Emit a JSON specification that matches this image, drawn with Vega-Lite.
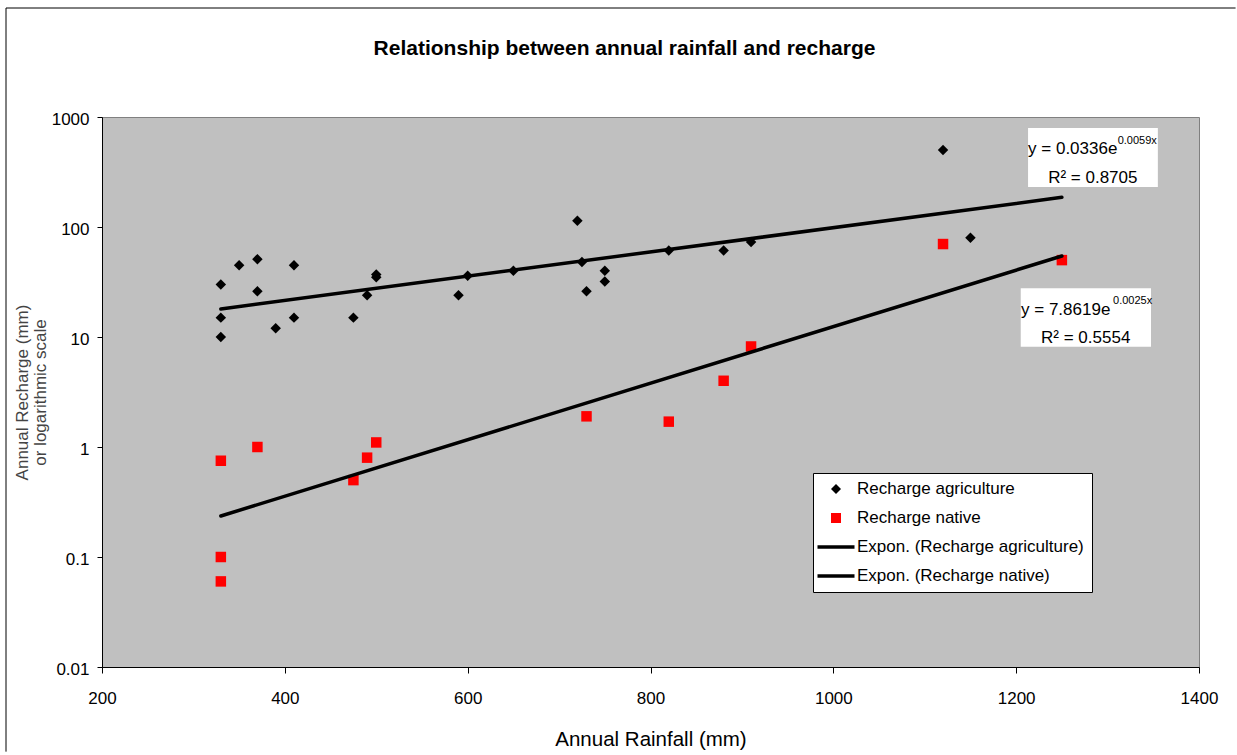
{
  "$schema": "https://vega.github.io/schema/vega-lite/v6.json",
  "width": 1097,
  "height": 550,
  "autosize": {"type": "none"},
  "padding": {"left": 102, "top": 117, "right": 38, "bottom": 88},
  "background": "white",
  "title": {
    "text": "Relationship between annual rainfall and recharge",
    "fontSize": 21,
    "fontWeight": "bold",
    "color": "black",
    "anchor": "middle",
    "frame": "group",
    "baseline": "alphabetic",
    "offset": 0,
    "dy": 68,
    "dx": -26
  },
  "config": {
    "font": "Liberation Sans",
    "view": {"fill": "#C0C0C0", "stroke": "#808080", "strokeWidth": 1},
    "axis": {"grid": false, "domainColor": "black", "tickColor": "black", "labelColor": "black", "titleColor": "black", "titleFontWeight": "normal"},
    "legend": {"labelLimit": 400}
  },
  "data": {"values": [{"note": "annotation"}]},
  "datasets": {
    "points": [
      {"series": "Recharge agriculture", "rainfall": 330, "recharge": 30},
      {"series": "Recharge agriculture", "rainfall": 330, "recharge": 15},
      {"series": "Recharge agriculture", "rainfall": 330, "recharge": 10},
      {"series": "Recharge agriculture", "rainfall": 350, "recharge": 45},
      {"series": "Recharge agriculture", "rainfall": 370, "recharge": 51},
      {"series": "Recharge agriculture", "rainfall": 370, "recharge": 26},
      {"series": "Recharge agriculture", "rainfall": 390, "recharge": 12},
      {"series": "Recharge agriculture", "rainfall": 410, "recharge": 45},
      {"series": "Recharge agriculture", "rainfall": 410, "recharge": 15},
      {"series": "Recharge agriculture", "rainfall": 475, "recharge": 15},
      {"series": "Recharge agriculture", "rainfall": 490, "recharge": 24},
      {"series": "Recharge agriculture", "rainfall": 500, "recharge": 37},
      {"series": "Recharge agriculture", "rainfall": 500, "recharge": 35},
      {"series": "Recharge agriculture", "rainfall": 590, "recharge": 24},
      {"series": "Recharge agriculture", "rainfall": 600, "recharge": 36},
      {"series": "Recharge agriculture", "rainfall": 650, "recharge": 40},
      {"series": "Recharge agriculture", "rainfall": 720, "recharge": 114},
      {"series": "Recharge agriculture", "rainfall": 725, "recharge": 48},
      {"series": "Recharge agriculture", "rainfall": 730, "recharge": 26},
      {"series": "Recharge agriculture", "rainfall": 750, "recharge": 40},
      {"series": "Recharge agriculture", "rainfall": 750, "recharge": 32},
      {"series": "Recharge agriculture", "rainfall": 820, "recharge": 61},
      {"series": "Recharge agriculture", "rainfall": 880, "recharge": 61},
      {"series": "Recharge agriculture", "rainfall": 910, "recharge": 73},
      {"series": "Recharge agriculture", "rainfall": 1120, "recharge": 500},
      {"series": "Recharge agriculture", "rainfall": 1150, "recharge": 80},
      {"series": "Recharge native", "rainfall": 330, "recharge": 0.75},
      {"series": "Recharge native", "rainfall": 330, "recharge": 0.1},
      {"series": "Recharge native", "rainfall": 330, "recharge": 0.06},
      {"series": "Recharge native", "rainfall": 370, "recharge": 1.0},
      {"series": "Recharge native", "rainfall": 475, "recharge": 0.5},
      {"series": "Recharge native", "rainfall": 490, "recharge": 0.8},
      {"series": "Recharge native", "rainfall": 500, "recharge": 1.1},
      {"series": "Recharge native", "rainfall": 730, "recharge": 1.9},
      {"series": "Recharge native", "rainfall": 820, "recharge": 1.7},
      {"series": "Recharge native", "rainfall": 880, "recharge": 4.0},
      {"series": "Recharge native", "rainfall": 910, "recharge": 8.2},
      {"series": "Recharge native", "rainfall": 1120, "recharge": 70},
      {"series": "Recharge native", "rainfall": 1250, "recharge": 50}
    ],
    "trends": [
      {"series": "Expon. (Recharge agriculture)", "rainfall": 330, "recharge": 18},
      {"series": "Expon. (Recharge agriculture)", "rainfall": 1250, "recharge": 186},
      {"series": "Expon. (Recharge native)", "rainfall": 330, "recharge": 0.236},
      {"series": "Expon. (Recharge native)", "rainfall": 1250, "recharge": 54.5}
    ]
  },
  "layer": [
    {
      "data": {"name": "points"},
      "mark": {"type": "point", "filled": true, "opacity": 1, "size": 110},
      "encoding": {
        "x": {
          "field": "rainfall", "type": "quantitative",
          "scale": {"domain": [200, 1400], "nice": false, "zero": false},
          "axis": {
            "values": [200, 400, 600, 800, 1000, 1200, 1400],
            "format": "d",
            "tickSize": 6,
            "labelPadding": 17,
            "labelFontSize": 17,
            "labelFlush": false,
            "labelOverlap": false,
            "title": "Annual Rainfall (mm)",
            "titleFontSize": 20.5,
            "titlePadding": 23
          }
        },
        "y": {
          "field": "recharge", "type": "quantitative",
          "scale": {"type": "log", "domain": [0.01, 1000], "nice": false},
          "axis": {
            "values": [0.01, 0.1, 1, 10, 100, 1000],
            "format": "~g",
            "tickSize": 5,
            "labelPadding": 8,
            "labelFontSize": 17,
            "labelOffset": 2,
            "labelOverlap": false,
            "title": ["Annual Recharge (mm)", "or logarithmic scale"],
            "titleFontSize": 17,
            "titleLineHeight": 18,
            "titleColor": "#444444",
            "titlePadding": 2
          }
        },
        "fill": {
          "field": "series", "type": "nominal",
          "scale": {
            "domain": ["Recharge agriculture", "Recharge native", "Expon. (Recharge agriculture)", "Expon. (Recharge native)"],
            "range": ["black", "#FF0000", "black", "black"]
          },
          "legend": {
            "title": null,
            "orient": "none",
            "legendX": 711,
            "legendY": 356,
            "fillColor": "white",
            "strokeColor": "black",
            "padding": 7.5,
            "labelFontSize": 17,
            "labelColor": "black",
            "labelOffset": 12.5,
            "symbolOffset": 7,
            "rowPadding": 11,
            "labelLimit": 400
          }
        },
        "shape": {
          "field": "series", "type": "nominal",
          "scale": {
            "domain": ["Recharge agriculture", "Recharge native", "Expon. (Recharge agriculture)", "Expon. (Recharge native)"],
            "range": ["diamond", "square", "M-3.7,-0.36H3.7V0.36H-3.7Z", "M-3.7,-0.36H3.7V0.36H-3.7Z"]
          }
        }
      }
    },
    {
      "data": {"name": "trends"},
      "mark": {"type": "line", "color": "black", "strokeWidth": 3.5, "strokeCap": "round"},
      "encoding": {
        "x": {"field": "rainfall", "type": "quantitative"},
        "y": {"field": "recharge", "type": "quantitative"},
        "detail": {"field": "series"}
      }
    },
    {
      "mark": {"type": "rule", "color": "black", "strokeWidth": 1},
      "encoding": {
        "x": {"datum": 95, "type": "quantitative"},
        "x2": {"datum": 1440},
        "y": {"datum": 9790, "type": "quantitative"}
      }
    },
    {
      "mark": {"type": "rule", "color": "black", "strokeWidth": 1},
      "encoding": {
        "x": {"datum": 95, "type": "quantitative"},
        "y": {"datum": 9790, "type": "quantitative"},
        "y2": {"datum": 0.0017}
      }
    },
    {
      "mark": {"type": "rect", "fill": "white"},
      "encoding": {
        "x": {"datum": 1213, "type": "quantitative"},
        "x2": {"datum": 1355},
        "y": {"datum": 794, "type": "quantitative"},
        "y2": {"datum": 231}
      }
    },
    {
      "mark": {"type": "rect", "fill": "white"},
      "encoding": {
        "x": {"datum": 1205, "type": "quantitative"},
        "x2": {"datum": 1347.5},
        "y": {"datum": 27.7, "type": "quantitative"},
        "y2": {"datum": 8.17}
      }
    },
    {
      "mark": {"type": "text", "align": "left", "baseline": "alphabetic", "fontSize": 17, "color": "black"},
      "encoding": {
        "x": {"datum": 1213, "type": "quantitative"},
        "y": {"datum": 458, "type": "quantitative"},
        "text": {"value": "y = 0.0336e"}
      }
    },
    {
      "mark": {"type": "text", "align": "left", "baseline": "alphabetic", "fontSize": 11, "color": "black"},
      "encoding": {
        "x": {"datum": 1311, "type": "quantitative"},
        "y": {"datum": 574, "type": "quantitative"},
        "text": {"value": "0.0059x"}
      }
    },
    {
      "mark": {"type": "text", "align": "left", "baseline": "alphabetic", "fontSize": 17, "color": "black"},
      "encoding": {
        "x": {"datum": 1235, "type": "quantitative"},
        "y": {"datum": 249.5, "type": "quantitative"},
        "text": {"value": "R² = 0.8705"}
      }
    },
    {
      "mark": {"type": "text", "align": "left", "baseline": "alphabetic", "fontSize": 17, "color": "black"},
      "encoding": {
        "x": {"datum": 1205.3, "type": "quantitative"},
        "y": {"datum": 15.85, "type": "quantitative"},
        "text": {"value": "y = 7.8619e"}
      }
    },
    {
      "mark": {"type": "text", "align": "left", "baseline": "alphabetic", "fontSize": 11, "color": "black"},
      "encoding": {
        "x": {"datum": 1306, "type": "quantitative"},
        "y": {"datum": 19.95, "type": "quantitative"},
        "text": {"value": "0.0025x"}
      }
    },
    {
      "mark": {"type": "text", "align": "left", "baseline": "alphabetic", "fontSize": 17, "color": "black"},
      "encoding": {
        "x": {"datum": 1227.2, "type": "quantitative"},
        "y": {"datum": 8.76, "type": "quantitative"},
        "text": {"value": "R² = 0.5554"}
      }
    }
  ]
}
